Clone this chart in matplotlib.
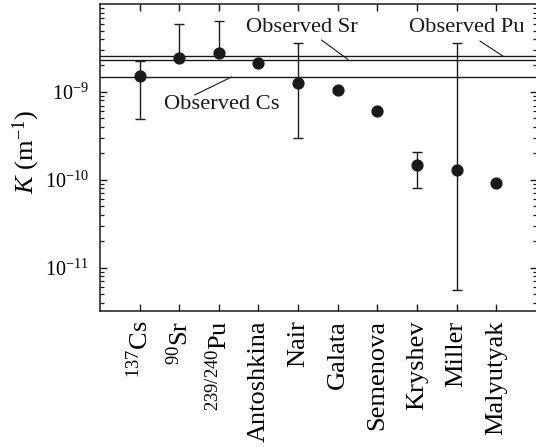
import numpy as np
import matplotlib
matplotlib.use("Agg")
import matplotlib.pyplot as plt
from matplotlib.ticker import LogLocator, NullFormatter, FixedLocator

plt.rcParams["font.family"] = ["Liberation Serif", "DejaVu Serif"]
plt.rcParams["mathtext.fontset"] = "custom"
plt.rcParams["mathtext.rm"] = "Liberation Serif"
plt.rcParams["mathtext.it"] = "Liberation Serif:italic"
plt.rcParams["mathtext.bf"] = "Liberation Serif:bold"

# Sources and estimated dispersion coefficients K (m^-1)
sources = [r"$^{137}$Cs", r"$^{90}$Sr", r"$^{239/240}$Pu", "Antoshkina", "Nair",
           "Galata", "Semenova", "Kryshev", "Miller", "Malyutyak"]
k_value = [1.51e-9, 2.42e-9, 2.76e-9, 2.16e-9, 1.26e-9,
           1.04e-9, 6.03e-10, 1.46e-10, 1.29e-10, 9.2e-11]
# Lower / upper bounds (NaN where no range is given)
k_low = [4.97e-10, 2.42e-9, 2.76e-9, np.nan, 3.02e-10,
         np.nan, np.nan, 8.13e-11, 5.56e-12, np.nan]
k_high = [2.27e-9, 5.94e-9, 6.49e-9, np.nan, 3.65e-9,
          np.nan, np.nan, 2.09e-10, 3.59e-9, np.nan]

# Observed values
obs_cs = 1.48e-9
obs_sr = 2.34e-9
obs_pu = 2.56e-9

# Labelled decades on the K axis
y_ticks = [1e-11, 1e-10, 1e-9]

ink = "#1a1a1a"

fig = plt.figure(figsize=(5.36, 4.47), dpi=100)
ax = fig.add_axes([100 / 536, (447 - 310.7) / 447, 437 / 536, 306.4 / 447])

x = np.arange(len(sources))
val = np.array(k_value)
lo = np.array(k_low)
hi = np.array(k_high)
has = ~np.isnan(lo)
yerr = np.vstack([val[has] - lo[has], hi[has] - val[has]])

for obs in (obs_cs, obs_sr, obs_pu):
    ax.axhline(obs, color=ink, lw=1.0, zorder=1)

ax.errorbar(x[has], val[has], yerr=yerr, fmt="none", ecolor=ink,
            elinewidth=1.0, capsize=3.8, capthick=1.0, zorder=2)
ax.plot(x, val, "o", color=ink, ms=7.8, zorder=3)

ax.set_yscale("log")
ax.set_ylim(3.23e-12, 9.95e-9)
ax.set_xlim(-1, 10.03)

ax.xaxis.set_major_locator(FixedLocator(x))
ax.set_xticklabels(sources, rotation=90)
ax.yaxis.set_major_locator(FixedLocator(y_ticks))
ax.yaxis.set_minor_locator(LogLocator(base=10, subs=np.arange(2, 10), numticks=20))
ax.yaxis.set_minor_formatter(NullFormatter())
ax.tick_params(axis="both", which="both", direction="in", top=True, right=True,
               color=ink)
ax.tick_params(axis="both", which="major", length=5, width=1.0)
ax.tick_params(axis="y", which="major", labelsize=14.5, pad=8)
ax.tick_params(axis="y", which="minor", length=3, width=0.9)
ax.tick_params(axis="x", which="major", labelsize=19, pad=7)
for s in ax.spines.values():
    s.set_linewidth(1.1)
    s.set_color(ink)

ax.set_ylabel(r"$K$ (m$^{-1}$)", fontsize=19)
ax.yaxis.set_label_coords(-0.133, 0.518)

ann_fs = 16.2
line_kw = dict(arrowstyle="-", color=ink, lw=0.8, shrinkA=0, shrinkB=0)
tr = ax.get_xaxis_transform()

ax.text(4.10, 0.923, "Observed Sr", transform=tr, ha="center", va="center",
        fontsize=ann_fs, color=ink)
ax.annotate("", xy=(5.26, obs_sr), xycoords="data",
            xytext=(4.59, 0.8835), textcoords=tr, arrowprops=line_kw)

ax.text(8.25, 0.923, "Observed Pu", transform=tr, ha="center", va="center",
        fontsize=ann_fs, color=ink)
ax.annotate("", xy=(9.17, obs_pu), xycoords="data",
            xytext=(8.59, 0.880), textcoords=tr, arrowprops=line_kw)

ax.text(2.08, 0.672, "Observed Cs", transform=tr, ha="center", va="center",
        fontsize=ann_fs, color=ink)
ax.annotate("", xy=(2.32, obs_cs), xycoords="data",
            xytext=(1.39, 0.704), textcoords=tr, arrowprops=line_kw)

fig.savefig("out.png", dpi=100)
